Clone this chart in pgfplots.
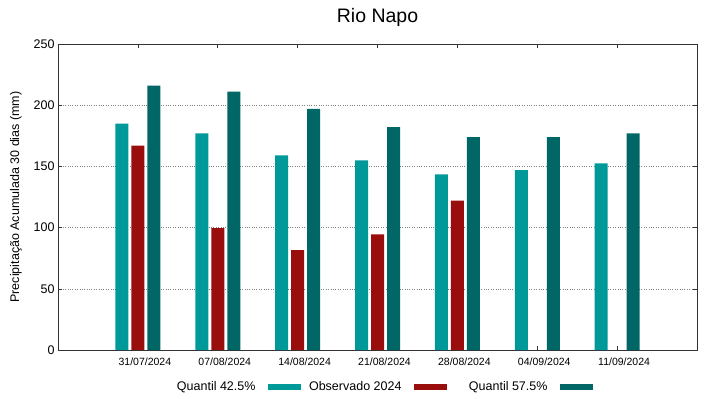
\documentclass[border=0pt]{standalone}
\usepackage{pgfplots}
\pgfplotsset{compat=1.18}
\usepackage{fontspec}
\setmainfont{Liberation Sans}
\definecolor{cq}{RGB}{0,153,153}
\definecolor{ob}{RGB}{153,13,13}
\definecolor{tq}{RGB}{0,102,102}
\begin{document}
\begin{tikzpicture}
\useasboundingbox (-58bp,-49bp) rectangle (661bp,350bp);
\begin{axis}[
  at={(0,0)}, anchor=south west, scale only axis,
  width=639bp, height=306bp,
  xmin=-1, xmax=7, ymin=0, ymax=250,
  xtick={0,1,2,3,4,5,6},
  xticklabels={31/07/2024,07/08/2024,14/08/2024,21/08/2024,28/08/2024,04/09/2024,11/09/2024},
  ytick={0,50,100,150,200,250},
  /pgf/number format/assume math mode=true,
  tick align=inside,
  major tick length=4bp,
  tick style={black!80, line width=0.6pt},
  ymajorgrids,
  grid style={dotted, gray, line width=0.6pt},
  axis line style={black!80, line width=0.8pt},
  xticklabel style={font=\fontsize{10.5bp}{12bp}\selectfont, xshift=7bp, yshift=-4bp},
  yticklabel style={font=\fontsize{12.5bp}{14bp}\selectfont},
  ylabel={Precipitação Acumulada 30 dias (mm)},
  ylabel style={font=\fontsize{12.5bp}{14bp}\selectfont, at={(axis description cs:-0.0657,0.5)}, anchor=center},
  title={Rio Napo},
  every axis title shift=0pt,
  title style={font=\fontsize{19.5bp}{22bp}\selectfont, at={(axis description cs:0.5,1)}, anchor=base, yshift=22bp},
  legend columns=3,
  legend plot pos=right,
  legend style={at={(axis description cs:0.5,-0.121)}, anchor=center, draw=none, fill=none,
    font=\fontsize{12.5bp}{14bp}\selectfont, inner sep=0pt,
    nodes={inner sep=0pt},
    /tikz/every even column/.append style={column sep=8bp},
    /tikz/every odd column/.append style={column sep=12bp}},
]
\addplot[ybar, bar width=13bp, bar shift=-16bp, fill=cq, draw=none,
  legend image code/.code={\fill[cq] (0bp,-3bp) rectangle (33bp,3bp);}]
  coordinates {(0,185) (1,177) (2,159) (3,155) (4,143.5) (5,147) (6,152.5)};
\addlegendentry{\makebox[93bp][r]{Quantil 42.5\%}}
\addplot[ybar, bar width=13bp, bar shift=0bp, fill=ob, draw=none,
  legend image code/.code={\fill[ob] (0bp,-3bp) rectangle (33bp,3bp);}]
  coordinates {(0,167) (1,99.5) (2,81.5) (3,94.5) (4,122)};
\addlegendentry{\makebox[93bp][r]{Observado 2024}}
\addplot[ybar, bar width=13bp, bar shift=16bp, fill=tq, draw=none,
  legend image code/.code={\fill[tq] (0bp,-3bp) rectangle (33bp,3bp);}]
  coordinates {(0,216) (1,211) (2,197) (3,182) (4,174) (5,174) (6,177)};
\addlegendentry{\makebox[93bp][r]{Quantil 57.5\%}}
\end{axis}
\end{tikzpicture}
\end{document}
